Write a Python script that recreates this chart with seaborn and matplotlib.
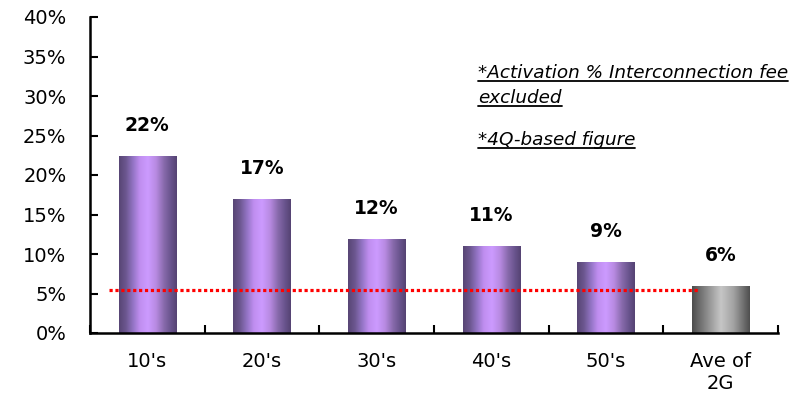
import numpy as np
import pandas as pd
import matplotlib
matplotlib.use("Agg")
import matplotlib.pyplot as plt
from matplotlib.colors import LinearSegmentedColormap
from matplotlib.lines import Line2D
from matplotlib.transforms import offset_copy
import seaborn as sns

# Activation share by age group
categories = ["10's", "20's", "30's", "40's", "50's", "Ave of\n2G"]
values = [22.4, 17.0, 11.9, 11.0, 9.0, 5.95]
reference_level = 5.5
y_ticks = [0, 5, 10, 15, 20, 25, 30, 35, 40]
notes = ["*Activation % Interconnection fee", "excluded", "*4Q-based figure"]

sns.set_theme(style="white")
plt.rcParams["font.family"] = ["DejaVu Sans"]

df = pd.DataFrame({"group": categories, "share": values})

W, H = 790, 393
fig = plt.figure(figsize=(W / 100, H / 100), dpi=100)
ax = fig.add_axes([90 / W, 1 - 333 / H, (778 - 90) / W, (333 - 17) / H])

sns.barplot(data=df, x="group", y="share", ax=ax, width=0.5,
            color="#a07ad0", saturation=1, edgecolor="none", linewidth=0)

# cylinder-like shading for each bar
purple = LinearSegmentedColormap.from_list("cyl_purple", [
    (0.00, "#574574"), (0.12, "#6c5790"), (0.25, "#9676c8"),
    (0.36, "#c08ef0"), (0.50, "#cc9bff"), (0.64, "#b88ae2"),
    (0.78, "#876aab"), (0.90, "#68538c"), (1.00, "#554372")])
grey = LinearSegmentedColormap.from_list("cyl_grey", [
    (0.00, "#4c4c4c"), (0.25, "#8a8a8a"), (0.50, "#c6c6c6"),
    (0.72, "#a2a2a2"), (1.00, "#4e4e4e")])
grad = np.linspace(0, 1, 256).reshape(1, -1)

label_tf = offset_copy(ax.transData, fig=fig, x=0, y=21, units="dots")
for i, patch in enumerate(ax.patches):
    x0, y0 = patch.get_x(), patch.get_y()
    w, h = patch.get_width(), patch.get_height()
    cmap = grey if i == len(ax.patches) - 1 else purple
    im = ax.imshow(grad, cmap=cmap, aspect="auto",
                   extent=[x0, x0 + w, y0, y0 + h], zorder=2,
                   interpolation="bicubic")
    im.set_clip_path(patch)
    patch.set_facecolor("none")
    ax.text(x0 + w / 2, y0 + h, f"{values[i]:.0f}%", ha="center",
            va="bottom", fontsize=13.5, fontweight="bold", color="black",
            transform=label_tf, zorder=4)

# dotted reference line across the age groups
ax.plot([-0.33, 4.80], [reference_level, reference_level], color="#ff0000",
        linewidth=2.3, linestyle=(0, (1.0, 0.85)), zorder=3,
        solid_capstyle="butt", dash_capstyle="butt")

ax.set_xlim(-0.5, len(categories) - 0.5)
ax.set_ylim(0, 40)
ax.set_yticks(y_ticks)
ax.set_yticklabels([f"{v}%" for v in y_ticks])
ax.set_xticks(range(len(categories)))
ax.set_xticklabels(categories)
ax.set_xticks(np.arange(-0.5, len(categories), 1.0), minor=True)
ax.set_xlabel("")
ax.set_ylabel("")

ax.tick_params(axis="x", which="major", length=0, pad=14, labelsize=14,
               labelcolor="black")
ax.tick_params(axis="x", which="minor", length=6, width=1.5, direction="in",
               color="black", bottom=True)
ax.tick_params(axis="y", length=6, width=1.5, direction="in", pad=17,
               labelsize=14, labelcolor="black", color="black", left=True)

for side in ("top", "right"):
    ax.spines[side].set_visible(False)
for side in ("left", "bottom"):
    ax.spines[side].set_color("black")
    ax.spines[side].set_linewidth(1.8)
ax.grid(False)

# footnotes, underlined
baselines = [78, 103, 145]
note_texts = []
for s, yb in zip(notes, baselines):
    note_texts.append(fig.text(478 / W, 1 - yb / H, s, ha="left",
                               va="baseline", fontsize=13.2, style="italic",
                               color="black"))

fig.canvas.draw()
renderer = fig.canvas.get_renderer()
for t, yb in zip(note_texts, baselines):
    bb = t.get_window_extent(renderer)
    yline = (H - yb - 3) / H
    fig.add_artist(Line2D([bb.x0 / W, bb.x1 / W], [yline, yline],
                          transform=fig.transFigure, color="black",
                          linewidth=1.3))

fig.savefig("out.png", dpi=100)
